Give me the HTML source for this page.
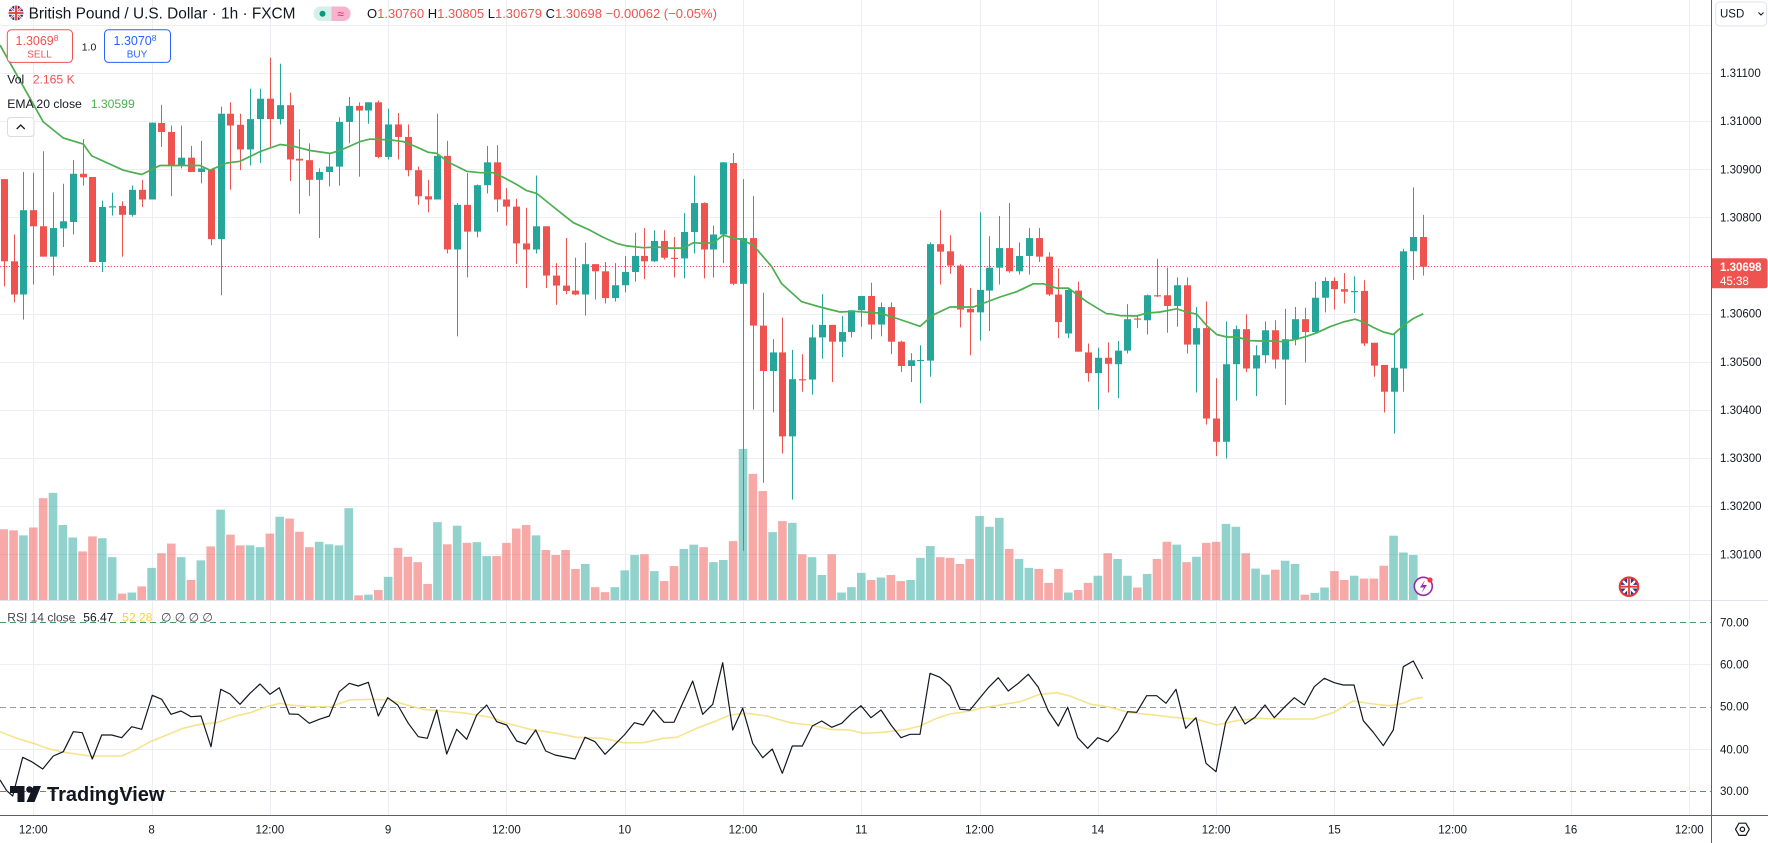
<!DOCTYPE html>
<html><head><meta charset="utf-8"><style>
html,body{margin:0;padding:0;background:#fff;overflow:hidden;}
svg{display:block;}
text{font-family:"Liberation Sans",Arial,sans-serif;}
</style></head><body>
<svg id="c" width="1768" height="843" viewBox="0 0 1768 843" xmlns="http://www.w3.org/2000/svg">
<defs><clipPath id="fc"><circle cx="1629" cy="586.7" r="8.2"/></clipPath>
<clipPath id="fc2"><circle cx="16" cy="13" r="7.5"/></clipPath></defs>
<rect width="1768" height="843" fill="#fff"/>
<g id="grid"></g>
<g id="lv"></g>
<g id="vol"></g>
<line x1="0" y1="266.5" x2="1712" y2="266.5" stroke="#ef5350" stroke-width="1" stroke-dasharray="1,2"/>
<g id="cnd"></g>
<g id="ln"></g>

<!-- header legend -->
<g clip-path="url(#fc2)"><circle cx="16" cy="13" r="7.5" fill="#283593"/>
<path d="M8 5 L24 21 M24 5 L8 21" stroke="#fff" stroke-width="2.4"/>
<path d="M8 5 L24 21 M24 5 L8 21" stroke="#e53935" stroke-width="0.9"/>
<path d="M16 4 V22 M7 13 H25" stroke="#fff" stroke-width="3.4"/>
<path d="M16 4 V22 M7 13 H25" stroke="#e53935" stroke-width="1.8"/></g>
<text x="28.6" y="18.5" font-size="15.4" fill="#131722">British Pound / U.S. Dollar · 1h · FXCM</text>
<rect x="313.5" y="6.5" width="37" height="14.5" rx="7.2" fill="#d5efeb"/>
<path d="M331.5 6.5 H343.3 A7.2 7.2 0 0 1 343.3 21 H331.5 Z" fill="#f7b3cb"/>
<circle cx="322.5" cy="13.7" r="3" fill="#089981"/>
<text x="340.5" y="18" font-size="12" fill="#e91e63" text-anchor="middle">≈</text>
<text x="367" y="18" font-size="13" fill="#131722">O<tspan fill="#ef5350">1.30760</tspan> H<tspan fill="#ef5350">1.30805</tspan> L<tspan fill="#ef5350">1.30679</tspan> C<tspan fill="#ef5350">1.30698</tspan> <tspan fill="#ef5350">−0.00062 (−0.05%)</tspan></text>

<rect x="7.3" y="29.8" width="65.2" height="32.6" rx="4" fill="#fff" stroke="#ef5350" stroke-width="1"/>
<text x="37" y="45" font-size="12.5" fill="#ef5350" text-anchor="middle">1.3069<tspan font-size="8.5" dy="-4">8</tspan></text>
<text x="39.5" y="57.5" font-size="10" fill="#ef5350" text-anchor="middle">SELL</text>
<text x="89" y="50.5" font-size="10.5" fill="#131722" text-anchor="middle">1.0</text>
<rect x="104.5" y="29.8" width="66" height="32.6" rx="4" fill="#fff" stroke="#2962ff" stroke-width="1"/>
<text x="135" y="45" font-size="12.5" fill="#2962ff" text-anchor="middle">1.3070<tspan font-size="8.5" dy="-4">8</tspan></text>
<text x="137" y="57.5" font-size="10" fill="#2962ff" text-anchor="middle">BUY</text>
<text x="7.3" y="83.5" font-size="12.2" fill="#131722">Vol <tspan x="32.7" fill="#ef5350">2.165 K</tspan></text>
<text x="7.3" y="107.8" font-size="12.2" fill="#131722">EMA 20 close <tspan x="90.7" fill="#4caf50">1.30599</tspan></text>
<rect x="7.5" y="117.5" width="26.5" height="19" rx="3" fill="#fff" stroke="#d9dce3"/>
<path d="M16.7 129 L20.7 125 L24.7 129" fill="none" stroke="#131722" stroke-width="1.3"/>

<!-- RSI legend -->
<text x="7.3" y="621.5" font-size="12" fill="#434651">RSI 14 close <tspan x="83.3" fill="#131722">56.47</tspan> <tspan x="122.3" fill="#f2d33a">52.28</tspan> <tspan x="161" fill="#434651">∅ ∅ ∅ ∅</tspan></text>

<!-- icons -->
<circle cx="1629" cy="586.7" r="10.3" fill="#e53935"/>
<circle cx="1629" cy="586.7" r="8.2" fill="#283593"/>
<g clip-path="url(#fc)">
<path d="M1620 578 L1638 596 M1638 578 L1620 596" stroke="#fff" stroke-width="2.4"/>
<path d="M1629 577 V597 M1619 586.7 H1639" stroke="#fff" stroke-width="3.6"/>
<path d="M1629 577 V597 M1619 586.7 H1639" stroke="#e53935" stroke-width="1.8"/></g>
<circle cx="1423.3" cy="586.3" r="9" fill="#fff" stroke="#9c27b0" stroke-width="1.6"/>
<path d="M1425 580 L1420 587.5 H1424 L1421.5 593 L1427 585 H1423 Z" fill="#9c27b0"/>
<circle cx="1430" cy="580" r="2.6" fill="#f23645"/>

<!-- TradingView logo -->
<path d="M10 786 H24.5 V802 H17.5 V793 H10 Z" fill="#131722"/>
<circle cx="29.5" cy="789.5" r="3.3" fill="#131722"/>
<path d="M33.5 786 H41 L34.5 802 H26.5 Z" fill="#131722"/>
<text x="47" y="801" font-size="20" font-weight="700" fill="#131722">TradingView</text>

<!-- axes -->
<g id="ax"></g>
<line x1="1711.5" y1="0" x2="1711.5" y2="843" stroke="#5d606b" stroke-width="1"/>
<line x1="0" y1="815.5" x2="1768" y2="815.5" stroke="#5d606b" stroke-width="1"/>
<rect x="1715.7" y="2" width="51" height="24" rx="4" fill="#fff" stroke="#e0e3eb"/>
<text x="1720" y="17.5" font-size="11.5" fill="#131722">USD</text>
<path d="M1758.5 12.5 L1761 15 L1763.5 12.5" fill="none" stroke="#131722" stroke-width="1.1"/>
<path d="M1712 258.3 H1765 A2.5 2.5 0 0 1 1767.5 260.8 V285.8 A2.5 2.5 0 0 1 1765 288.3 H1712 Z" fill="#ef5350"/>
<text x="1720" y="271" font-size="11.5" font-weight="700" fill="#fff">1.30698</text>
<text x="1720" y="285" font-size="11.5" fill="#fff">45:38</text>
<polygon points="1735.5,829.3 1739,823.2 1745.8,823.2 1749.3,829.3 1745.8,835.4 1739,835.4" fill="none" stroke="#131722" stroke-width="1.2"/>
<circle cx="1742.4" cy="829.3" r="2.2" fill="none" stroke="#131722" stroke-width="1.2"/>
</svg>
<script>
(function(){
const NS='http://www.w3.org/2000/svg';
function el(tag,a,p){const e=document.createElementNS(NS,tag);for(const k in a)e.setAttribute(k,a[k]);p.appendChild(e);return e;}
const G=document.getElementById('grid'),LV=document.getElementById('lv'),V=document.getElementById('vol'),C=document.getElementById('cnd'),L=document.getElementById('ln'),AX=document.getElementById('ax');
const fy=z=>(z+111.3)/2.7987;
const bx=i=>3.73+i*9.857;
const GC='#eceef3';
// vertical gridlines + time labels
const tl=["12:00","8","12:00","9","12:00","10","12:00","11","12:00","14","12:00","15","12:00","16","12:00"];
for(let k=0;k<15;k++){const x=Math.round(33.3+118.28*k)+0.5;
 el('line',{x1:x,y1:0,x2:x,y2:815,stroke:GC,'stroke-width':1},G);
 const t=el('text',{x:33.3+118.28*k,y:833.5,'font-size':11.5,fill:'#131722','text-anchor':'middle'},AX);t.textContent=tl[k];}
// horizontal price grid
const py=[25,73,121.1,169.3,217.4,265.5,313.7,361.8,409.9,458,506.2,554.3];
const pl=[null,"1.31100","1.31000","1.30900","1.30800",null,"1.30600","1.30500","1.30400","1.30300","1.30200","1.30100"];
py.forEach((y,i)=>{const yy=Math.round(y)+0.5;el('line',{x1:0,y1:yy,x2:1711,y2:yy,stroke:GC,'stroke-width':1},G);
 if(pl[i]){const t=el('text',{x:1720,y:y+4,'font-size':11.5,fill:'#131722'},AX);t.textContent=pl[i];}});
// pane separator
el('line',{x1:0,y1:600.5,x2:1768,y2:600.5,stroke:'#dfe2e8','stroke-width':1},G);
// RSI grid
[[664.3,null],[749.3,null]].forEach(r=>{const yy=Math.round(r[0])+0.5;el('line',{x1:0,y1:yy,x2:1711,y2:yy,stroke:GC,'stroke-width':1},G);});
[[622.3,'#4f9a5e'],[706.7,'#9598a1'],[791,'#d9534f']].forEach(r=>{const yy=Math.round(r[0])+0.5;el('line',{x1:0,y1:yy,x2:1711,y2:yy,stroke:r[1],'stroke-width':1,'stroke-dasharray':'6,4'},LV);});
[["70.00",622.3],["60.00",664.3],["50.00",706.7],["40.00",749.3],["30.00",791]].forEach(r=>{const t=el('text',{x:1720,y:r[1]+4,'font-size':11.5,fill:'#131722'},AX);t.textContent=r[0];});

const CD=[
['r',390,390,620,690],['r',545,620,713,735],['g',370,713,477,783],['r',372,477,522,685],['r',312,522,607,607],
['g',427,607,527,660],['g',403,528,508,580],['g',337,510,375,545],['r',278,375,385,408],['r',384,384,622,622],
['g',450,622,468,650],['g',428,468,466,492],['r',452,465,490,607],['g',408,490,420,495],['r',392,420,447,468],
['g',232,447,232,447],['r',182,233,258,300],['r',240,258,352,438],['g',240,352,330,360],['r',297,330,370,370],
['g',283,370,360,402],['r',362,362,558,575],['g',187,558,207,715],['r',175,207,240,420],['r',207,238,307,365],
['g',137,307,222,352],['g',137,222,165,345],['r',50,165,222,300],['g',67,222,183,237],['r',148,183,335,395],
['r',250,333,338,487],['r',290,337,392,437],['g',360,392,370,555],['g',320,370,355,410],['g',217,355,230,408],
['g',160,230,185,290],['r',175,185,198,383],['g',175,198,175,235],['r',170,175,328,332],['g',193,328,237,335],
['r',205,237,272,335],['r',237,272,365,382],['r',355,365,438,462],['r',392,438,447,483],['g',207,447,325,447],
['r',283,325,587,598],['g',457,587,462,830],['r',373,462,537,665],['g',405,537,407,553],['g',297,407,343,430],
['r',295,343,447,482],['r',415,447,467,520],['r',445,467,570,627],['r',470,570,587,695],['g',380,587,522,598],
['r',522,522,660,695],['r',625,660,688,742],['r',555,688,703,712],['r',610,702,713,715],['g',568,713,628,772],
['r',628,628,648,727],['r',622,648,723,738],['g',625,723,687,733],['g',605,687,650,707],['g',540,650,605,677],
['r',527,605,620,670],['g',533,620,563,622],['r',533,563,610,615],['r',552,610,612,665],['g',485,612,538,668],
['g',380,538,457,598],['r',455,457,587,668],['g',520,587,545,665],['g',342,545,343,625],['r',317,345,683,687],
['g',390,683,555,1430],['r',437,555,800,1035],['r',708,800,927,1240],['g',838,927,875,1043],['r',778,875,1110,1158],
['g',868,1110,950,1287],['r',880,950,952,985],['g',797,951,833,993],['g',712,833,798,893],['r',798,798,845,958],
['g',773,845,818,888],['g',757,818,757,833],['g',717,757,717,803],['r',680,717,797,838],['g',735,797,748,830],
['r',735,748,845,880],['r',842,845,913,930],['g',877,913,897,958],['g',855,898,896,1017],['g',567,898,572,943],
['r',477,572,593,685],['r',547,592,632,655],['r',628,632,755,805],['r',695,753,763,883],['g',483,763,700,842],
['g',550,702,638,815],['g',493,638,583,685],['r',457,583,648,652],['g',567,648,605,657],['g',527,605,555,657],
['r',527,555,607,622],['r',595,607,713,717],['r',640,713,790,835],['g',698,822,700,835],['r',677,702,873,873],
['r',850,875,933,957],['g',862,933,890,1035],['r',847,890,907,987],['g',843,908,870,1003],['g',740,870,782,878],
['r',770,780,782,807],['g',713,785,715,825],['r',613,715,718,720],['r',638,715,745,820],['g',665,745,687,803],
['r',665,687,853,878],['g',748,853,807,987],['r',732,807,1060,1077],['r',947,1060,1125,1165],['g',788,1125,908,1172],
['g',800,908,810,1010],['r',768,810,920,930],['g',855,920,883,997],['g',788,883,813,905],['r',785,813,895,920],
['g',753,895,838,1022],['g',748,838,782,855],['r',750,782,818,903],['g',677,818,722,823],['g',665,722,675,763],
['r',665,675,698,755],['r',653,698,705,738],['g',662,705,703,765],['r',673,703,850,857],['r',848,848,912,943],
['r',910,910,985,1043],['g',820,985,918,1102],['g',585,920,592,985],['g',413,592,552,672],['r',490,552,635,660]
];
const VO=[1370,1373,1387,1365,1283,1268,1358,1393,1432,1390,1395,1448,1550,1547,1530,1478,1437,1410,1448,1512,
1457,1418,1315,1385,1415,1415,1420,1382,1335,1340,1377,1420,1405,1412,1415,1311,1555,1553,1540,1503,
1422,1447,1462,1523,1350,1412,1360,1408,1406,1445,1445,1408,1368,1358,1387,1428,1442,1428,1481,1467,
1532,1546,1532,1485,1442,1440,1487,1515,1473,1425,1413,1420,1462,1456,1403,1145,1215,1263,1378,1347,
1352,1440,1448,1498,1440,1547,1532,1492,1512,1505,1498,1515,1512,1450,1417,1448,1450,1467,1453,1333,
1363,1338,1425,1453,1478,1481,1520,1481,1547,1540,1520,1500,1437,1453,1500,1533,1495,1453,1405,1413,
1462,1447,1408,1405,1355,1363,1437,1480,1497,1483,1458,1467,1553,1548,1533,1487,1512,1500,1508,1508,
1472,1388,1435,1442];
const UP='#26a69a',DN='#ef5350';
VO.forEach((v,i)=>{const t=fy(v);const col=CD[i][0]==='g'?UP:DN;
 el('rect',{x:(bx(i)-4.3).toFixed(2),y:t.toFixed(2),width:8.6,height:(600-t).toFixed(2),fill:col,'fill-opacity':0.5},V);});
CD.forEach((d,i)=>{const col=d[0]==='g'?UP:DN;const xr=Math.round(bx(i));
 const h=fy(d[1]),o=fy(d[2]),c=fy(d[3]),l=fy(d[4]);let top=Math.min(o,c),bot=Math.max(o,c);if(bot-top<1.2)bot=top+1.2;
 el('rect',{x:xr,y:h.toFixed(2),width:1,height:Math.max(1,l-h).toFixed(2),fill:col},C);
 el('rect',{x:xr-3,y:top.toFixed(2),width:7,height:(bot-top).toFixed(2),fill:col},C);});
// EMA
function seg(arr,x0){return arr.map(p=>[x0+p[0]/3,fy(p[1])]);}
let ema=[].concat(
seg([[0,15],[130,230],[190,275],[250,292],[275,325],[370,365],[425,377],[480,352],[600,352],[630,365],[680,345],[720,340],[780,313],[840,293],[880,298],[930,310],[990,318],[1020,310],[1080,285],[1110,278]],0),
seg([[60,280],[100,285],[140,300],[175,315],[200,318],[240,345],[290,368],[330,372],[370,372],[400,385],[440,405],[470,422],[500,430],[540,460],[580,490],[610,512],[660,533],[700,553],[740,570],[770,577],[820,582],[860,580],[900,583],[940,583],[970,568],[1000,570],[1030,568],[1060,547],[1090,555]],370),
seg([[0,558],[40,575],[95,635],[125,683],[185,733],[240,748],[300,762],[340,760],[420,765],[480,783],[540,802],[580,770],[630,748],[700,748],[780,720],[830,705],[880,683],[910,683],[950,695],[985,695],[1040,733],[1100,767]],740),
seg([[0,767],[30,772],[80,773],[110,765],[150,762],[200,753],[230,762],[260,768],[290,800],[320,825],[350,832],[380,832],[420,842],[450,843],[490,843],[520,845],[560,838],[590,830],[620,820],[660,803],[700,790],[735,782],[760,790],[790,805],[820,818],[850,825],[880,800],[910,780],[940,767]],1110));
el('polyline',{points:ema.map(p=>p[0].toFixed(1)+','+p[1].toFixed(1)).join(' '),fill:'none',stroke:'#4caf50','stroke-width':1.7,'stroke-linejoin':'round'},L);
// RSI
function rs(arr,x0){return arr.map(p=>[x0+p[0]/3,600+p[1]/3]);}
const ry=[].concat(
rs([[0,395],[50,415],[100,430],[150,448],[200,458],[270,468],[365,468],[410,448],[450,425],[500,405],[550,385],[600,373],[650,368],[700,350],[750,338],[800,320],[840,310],[870,315],[930,320],[990,320],[1050,300],[1110,298],[1170,300],[1220,315],[1270,328],[1330,333],[1400,340],[1470,352]],0),
rs([[60,372],[120,388],[200,400],[260,412],[340,415],[400,428],[460,428],[520,415],[560,412],[620,385],[680,362],[720,345],[770,340],[830,348],[900,368],[960,375],[1020,388],[1080,390],[1120,400],[1180,397],[1250,388],[1290,378],[1340,355],[1380,342],[1440,333]],490),
rs([[0,325],[60,315],[120,305],[180,283],[230,278],[270,288],[330,312],[390,322],[450,338],[520,345],[580,352],[650,358],[710,375],[770,362],[830,355],[900,357],[1000,357],[1060,338],[1090,320],[1120,303],[1180,312],[1230,317],[1270,310],[1300,297],[1328,292]],980));
el('polyline',{points:ry.map(p=>p[0].toFixed(1)+','+p[1].toFixed(1)).join(' '),fill:'none',stroke:'#f3df7a','stroke-width':1.6,'stroke-opacity':0.85,'stroke-linejoin':'round'},L);
const rb=[].concat(
rs([[0,540],[20,572],[38,588],[68,472],[95,485],[128,507],[160,468],[190,455],[220,395],[247,398],[277,477],[305,405],[335,405],[365,413],[395,380],[425,388],[457,286],[485,298],[513,343],[543,333],[573,350],[603,348],[633,440],[662,268],[690,282],[720,313],[750,280],[780,252],[810,283],[838,263],[868,342],[895,343],[928,370],[958,358],[988,348],[1018,275],[1048,250],[1075,258],[1105,247],[1135,348],[1163,293],[1193,315],[1225,370],[1255,410],[1282,415],[1310,330],[1340,462],[1370,388],[1400,418],[1430,345],[1460,315]],0),
rs([[20,365],[50,375],[80,423],[107,432],[137,390],[167,453],[195,465],[225,471],[255,477],[285,412],[315,425],[345,463],[375,433],[403,405],[433,368],[460,375],[490,330],[522,367],[552,367],[580,305],[608,243],[638,343],[668,313],[698,188],[728,390],[758,325],[788,430],[818,473],[847,447],[877,520],[907,438],[937,438],[967,378],[995,363],[1025,382],[1055,370],[1085,340],[1113,317],[1143,353],[1173,330],[1203,375],[1233,413],[1260,403],[1290,403],[1320,220],[1350,232],[1380,258],[1410,328],[1440,330]],490),
rs([[0,293],[25,263],[55,233],[85,273],[115,250],[145,223],[175,262],[205,333],[235,378],[263,322],[293,413],[323,445],[353,413],[383,425],[413,393],[443,335],[470,337],[500,287],[530,287],[558,310],[588,268],[617,385],[648,353],[678,490],[708,515],[737,367],[765,320],[795,372],[825,352],[855,315],[883,353],[913,322],[943,293],[973,315],[1003,260],[1033,235],[1063,248],[1090,255],[1122,255],[1150,362],[1180,397],[1210,437],[1240,390],[1270,200],[1300,183],[1328,237]],980));
el('polyline',{points:rb.map(p=>p[0].toFixed(1)+','+p[1].toFixed(1)).join(' '),fill:'none',stroke:'#131722','stroke-width':1.2,'stroke-linejoin':'round'},L);
})();
</script>
</body></html>
